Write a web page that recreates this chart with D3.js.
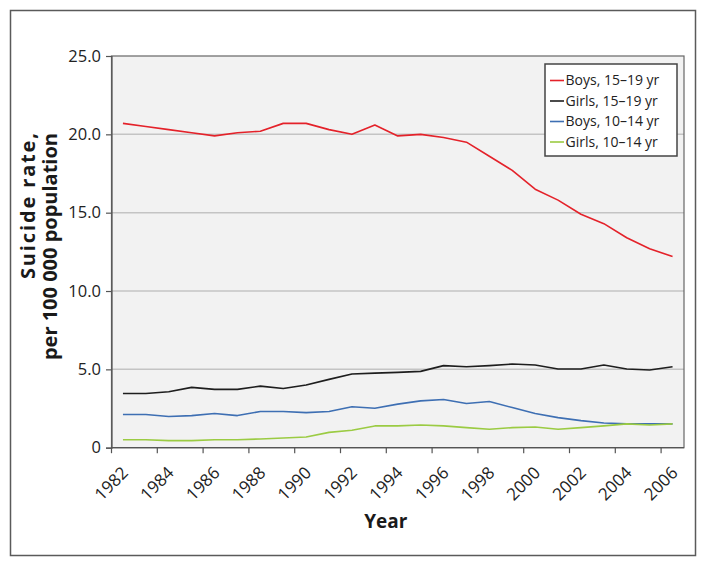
<!DOCTYPE html>
<html><head><meta charset="utf-8">
<script src="https://cdn.jsdelivr.net/npm/d3@7/dist/d3.min.js"></script>
<style>html,body{margin:0;padding:0;background:#fff;}</style>
</head><body>
<svg id="chart" width="706" height="567"></svg>
<script>
const years = [1982,1983,1984,1985,1986,1987,1988,1989,1990,1991,1992,1993,1994,1995,1996,1997,1998,1999,2000,2001,2002,2003,2004,2005,2006];
const boys1519 = [20.7,20.5,20.3,20.1,19.9,20.1,20.2,20.7,20.7,20.3,20.0,20.6,19.9,20.0,19.8,19.5,18.6,17.7,16.5,15.8,14.9,14.3,13.4,12.7,12.2];
const girls1519 = [3.46,3.46,3.57,3.85,3.72,3.72,3.93,3.78,4.0,4.36,4.7,4.76,4.81,4.87,5.24,5.17,5.24,5.34,5.28,5.02,5.02,5.28,5.02,4.96,5.17];
const boys1014 = [2.12,2.12,1.99,2.05,2.18,2.05,2.31,2.31,2.24,2.31,2.61,2.52,2.78,2.99,3.08,2.82,2.95,2.56,2.18,1.92,1.73,1.58,1.52,1.52,1.52];
const girls1014 = [0.51,0.51,0.45,0.45,0.51,0.51,0.56,0.62,0.68,0.98,1.11,1.39,1.39,1.45,1.39,1.28,1.18,1.28,1.32,1.18,1.28,1.39,1.52,1.45,1.52];
const seriesNames = ["Boys, 15\u201319 yr","Girls, 15\u201319 yr","Boys, 10\u201314 yr","Girls, 10\u201314 yr"];
const seriesColors = ["#e4222a","#1e1e1e","#3e6fb3","#9bcb43"];
const yTicks = [0,5,10,15,20,25];
const yTickLabels = ["0","5.0","10.0","15.0","20.0","25.0"];
const xTickYears = [1982,1984,1986,1988,1990,1992,1994,1996,1998,2000,2002,2004,2006];
const yTitle = ["Suicide rate,","per 100 000 population"];
const xTitle = "Year";

const seriesValues = [boys1519, girls1519, boys1014, girls1014];
const svg = d3.select("#chart");
const L = 111.5, R = 684, T = 56, B = 447.7;
const x = d3.scaleBand().domain(years).range([L, R]).padding(0);
const y = d3.scaleLinear().domain([0,25]).range([B, T]);
const cx = d => x(d) + x.bandwidth()/2;
const font = "'Open Sans', sans-serif";

svg.append("rect").attr("x",10.5).attr("y",10.5).attr("width",685).attr("height",545)
  .attr("fill","#fff").attr("stroke","#5a5a5a").attr("stroke-width",1.5);

svg.append("rect").attr("x",L).attr("y",T).attr("width",R-L).attr("height",B-T).attr("fill","#f2f2f2");

// gridlines
svg.append("g").selectAll("line").data(yTicks.filter(v => v>0 && v<25)).join("line")
  .attr("x1",L).attr("x2",R).attr("y1",d=>y(d)).attr("y2",d=>y(d))
  .attr("stroke","#c4c4c4").attr("stroke-width",1.5);

// plot border
svg.append("rect").attr("x",L).attr("y",T).attr("width",R-L).attr("height",B-T)
  .attr("fill","none").attr("stroke","#666").attr("stroke-width",1.2);

// y axis
const yAxis = d3.axisLeft(y).tickValues(yTicks).tickSize(5.5).tickPadding(5)
  .tickFormat((d,i) => yTickLabels[i]);
const gy = svg.append("g").attr("transform",`translate(${L},0)`).call(yAxis);
gy.select(".domain").attr("stroke","#555").attr("stroke-width",1.2);
gy.selectAll(".tick line").attr("stroke","#555").attr("stroke-width",1.2);
gy.selectAll(".tick text").attr("font-family",font).attr("font-size",16.5).attr("fill","#222");

// x axis: ticks at category boundaries, labels at category centres
const gx = svg.append("g").attr("transform",`translate(0,${B})`);
gx.append("line").attr("x1",L).attr("x2",R).attr("stroke","#555").attr("stroke-width",1.2);
gx.selectAll("line.tk").data(xTickYears).join("line").attr("class","tk")
  .attr("x1",d=>x(d)).attr("x2",d=>x(d)).attr("y1",0).attr("y2",5.5)
  .attr("stroke","#555").attr("stroke-width",1.2);
gx.selectAll("text").data(xTickYears).join("text")
  .attr("transform",d=>`translate(${cx(d)+2},${22}) rotate(-45)`)
  .attr("text-anchor","end").attr("dy","0.35em")
  .attr("font-family",font).attr("font-size",17).attr("fill","#222")
  .text(d=>d);

// lines
const line = d3.line().x((d,i)=>cx(years[i])).y(d=>y(d));
svg.append("g").selectAll("path").data(seriesValues).join("path")
  .attr("d",line).attr("fill","none")
  .attr("stroke",(d,i)=>seriesColors[i]).attr("stroke-width",1.6)
  .attr("stroke-linejoin","round");

// legend
const lg = svg.append("g");
lg.append("rect").attr("x",545).attr("y",64).attr("width",132).attr("height",92)
  .attr("fill","#fff").attr("stroke","#444").attr("stroke-width",1.5);
const rows = lg.selectAll("g").data(seriesNames).join("g")
  .attr("transform",(d,i)=>`translate(0,${80.5+i*20.5})`);
rows.append("line").attr("x1",550).attr("x2",564).attr("stroke",(d,i)=>seriesColors[i]).attr("stroke-width",1.6);
rows.append("text").attr("x",565.5).attr("dy","0.35em").attr("font-family",font).attr("font-size",14)
  .attr("fill","#222").text(d=>d);

// titles
svg.append("text").attr("x",(L+R)/2 - 12).attr("y",528).attr("text-anchor","middle")
  .attr("font-family",font).attr("font-weight","bold").attr("font-size",19).attr("fill","#1a1a1a").text(xTitle);
const yt = svg.append("text").attr("transform",`translate(0,133) rotate(-90)`)
  .attr("text-anchor","end").attr("font-family",font).attr("font-weight","bold")
  .attr("font-size",20).attr("fill","#1a1a1a");
yt.selectAll("tspan").data(yTitle).join("tspan").attr("x",0).attr("y",(d,i)=>35+i*22)
  .attr("textLength",(d,i)=> i===0 ? 146 : null)
  .attr("lengthAdjust","spacing")
  .text(d=>d);
</script>
</body></html>
